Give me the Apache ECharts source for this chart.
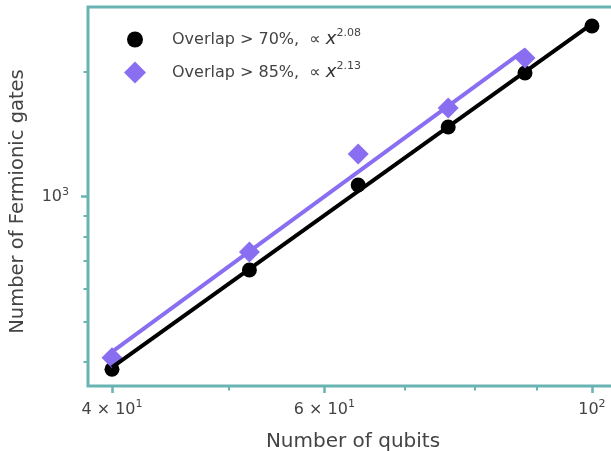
<!DOCTYPE html>
<html>
<head>
<meta charset="utf-8">
<script src="https://cdn.jsdelivr.net/npm/echarts@6/dist/echarts.min.js"></script>
<style>
  html, body { margin: 0; padding: 0; background: #fff; }
  #chart { width: 611px; height: 451px; }
</style>
</head>
<body>
<div id="chart"></div>
<script>
// data
const qubits = [40, 52, 64, 76, 88, 100];
const gates70 = [384, 666, 1067, 1472, 1987, 2579];
const gates85 = [409, 736, 1267, 1636, 2160];
const fit70X = [40, 100];
const fit70Y = [388, 2610];
const fit85X = [40, 88];
const fit85Y = [423, 2259];

// ticks
const xMajor = [40, 60, 100];
const xMajorText = [['4 × 10', '1'], ['6 × 10', '1'], ['10', '2']];
const xMinor = [50, 70, 80, 90];
const yMajor = [1000];
const yMajorText = [['10', '3']];
const yMinor = [400, 500, 600, 700, 800, 900, 2000];

const teal = '#68b4b3';
const purple = '#8a6ef2';
const font = 'DejaVu Sans';
const textColor = '#444';

const supRich = {
  n: { fontFamily: font, fontSize: 16, color: textColor },
  s: { fontFamily: font, fontSize: 11, color: textColor, padding: [0, 0, 10, 0] }
};

function pairs(xs, ys) {
  return xs.map((x, i) => [x, ys[i]]);
}

function tickText(vals, texts) {
  return function (v) {
    for (let i = 0; i < vals.length; i++) {
      if (Math.abs(vals[i] - v) < 1e-6 * vals[i]) {
        return '{n|' + texts[i][0] + '}{s|' + texts[i][1] + '}';
      }
    }
    return '';
  };
}

function legendRich(padLeft) {
  return {
    t: { fontFamily: font, fontSize: 16, color: textColor, padding: [0, 0, 0, padLeft] },
    x: { fontFamily: font, fontSize: 18, fontStyle: 'italic', color: '#333' },
    s: { fontFamily: font, fontSize: 11, color: textColor, padding: [0, 0, 12, 0] }
  };
}

const chart = echarts.init(document.getElementById('chart'), null, { renderer: 'canvas' });

let option = {
  animation: false,
  grid: {
    left: 88, top: 7, width: 530, height: 379,
    outerBoundsMode: 'none',
    show: true, borderColor: teal, borderWidth: 3, backgroundColor: 'transparent'
  },
  legend: [
    {
      data: [{ name: 'Overlap > 70%', icon: 'circle' }],
      left: 122, top: 23, itemWidth: 16, itemHeight: 16,
      itemStyle: { opacity: 1 },
      formatter: () => '{t|Overlap > 70%,  ∝ }{x|x}{s|2.08}',
      textStyle: { rich: legendRich(24) }
    },
    {
      data: [{ name: 'Overlap > 85%', icon: 'diamond' }],
      left: 119, top: 56, itemWidth: 22, itemHeight: 22,
      itemStyle: { opacity: 1 },
      formatter: () => '{t|Overlap > 85%,  ∝ }{x|x}{s|2.13}',
      textStyle: { rich: legendRich(21) }
    }
  ],
  xAxis: [
    {
      type: 'log', logBase: 10, min: 38.21, max: 105.1, position: 'bottom',
      name: 'Number of qubits', nameLocation: 'middle', nameGap: 46,
      nameTextStyle: { fontFamily: font, fontSize: 20, color: textColor },
      axisLine: { show: false },
      axisTick: { show: true, customValues: xMajor, length: 7, lineStyle: { color: teal, width: 2.5 } },
      axisLabel: { customValues: xMajor, margin: 13, formatter: tickText(xMajor, xMajorText), rich: supRich },
      splitLine: { show: false }, minorTick: { show: false }
    },
    {
      type: 'log', logBase: 10, min: 38.21, max: 105.1, position: 'bottom',
      axisLine: { show: false },
      axisTick: { show: true, customValues: xMinor, length: 4.5, lineStyle: { color: teal, width: 2 } },
      axisLabel: { show: false },
      splitLine: { show: false }
    }
  ],
  yAxis: [
    {
      type: 'log', logBase: 10, min: 349.9, max: 2865, position: 'left',
      name: 'Number of Fermionic gates', nameLocation: 'middle', nameGap: 60,
      nameTextStyle: { fontFamily: font, fontSize: 19.5, color: textColor, padding: [0, 10, 0, 0] },
      axisLine: { show: false },
      axisTick: { show: true, customValues: yMajor, length: 7, lineStyle: { color: teal, width: 2.5 } },
      axisLabel: { customValues: yMajor, margin: 19, formatter: tickText(yMajor, yMajorText), rich: supRich },
      splitLine: { show: false }, minorTick: { show: false }
    },
    {
      type: 'log', logBase: 10, min: 349.9, max: 2865, position: 'left',
      axisLine: { show: false },
      axisTick: { show: true, customValues: yMinor, length: 4.5, lineStyle: { color: teal, width: 2 } },
      axisLabel: { show: false },
      splitLine: { show: false }
    }
  ],
  series: [
    {
      name: 'Overlap > 70%', type: 'scatter', z: 2,
      symbol: 'circle', symbolSize: 15,
      itemStyle: { color: '#000', opacity: 1 },
      data: pairs(qubits, gates70)
    },
    {
      name: 'Overlap > 85%', type: 'scatter', z: 3,
      symbol: 'diamond', symbolSize: 21,
      itemStyle: { color: purple, opacity: 1 },
      data: pairs(qubits.slice(0, gates85.length), gates85)
    },
    {
      name: 'fit70', type: 'line', z: 4, showSymbol: false, symbol: 'none',
      lineStyle: { color: '#000', width: 4 },
      data: pairs(fit70X, fit70Y)
    },
    {
      name: 'fit85', type: 'line', z: 5, showSymbol: false, symbol: 'none',
      lineStyle: { color: purple, width: 4 },
      data: pairs(fit85X, fit85Y)
    }
  ]
};
chart.setOption(option);
</script>
</body>
</html>
